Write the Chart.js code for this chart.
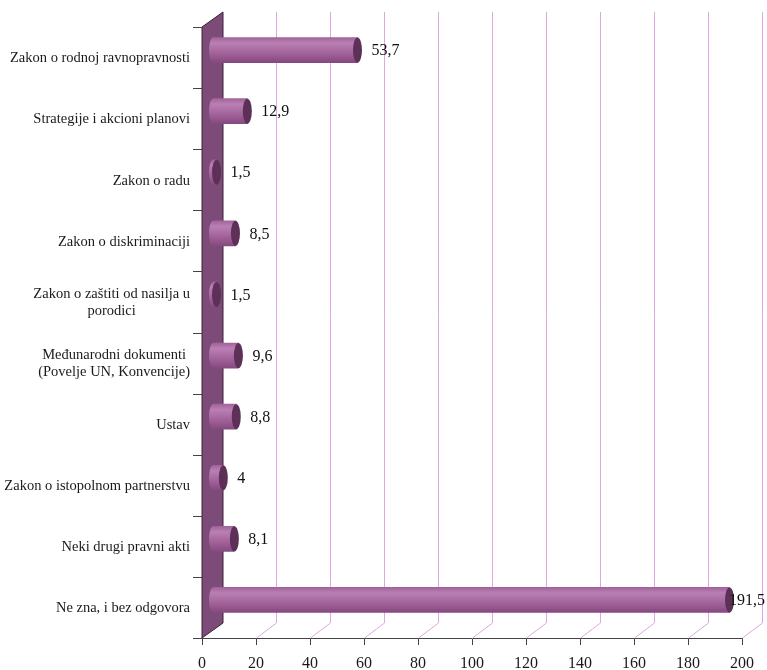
<!DOCTYPE html>
<html>
<head>
<meta charset="utf-8">
<script src="https://cdn.jsdelivr.net/npm/chart.js@4.4.1/dist/chart.umd.min.js"></script>
<style>
  body { margin: 0; background: #fff; }
  canvas { display: block; }
</style>
</head>
<body>
<canvas id="lawChart" width="767" height="670"></canvas>
<script>
// categories, top to bottom
var categories = [
     ["Zakon o rodnoj ravnopravnosti"],
     ["Strategije i akcioni planovi"],
     ["Zakon o radu"],
     ["Zakon o diskriminaciji"],
     ["Zakon o zaštiti od nasilja u", "porodici"],
     ["Međunarodni dokumenti", "(Povelje UN, Konvencije)"],
     ["Ustav"],
     ["Zakon o istopolnom partnerstvu"],
     ["Neki drugi pravni akti"],
     ["Ne zna, i bez odgovora"]
];
var values = [53.7, 12.9, 1.5, 8.5, 1.5, 9.6, 8.8, 4, 8.1, 191.5];
var xTicks = [0, 20, 40, 60, 80, 100, 120, 140, 160, 180, 200];

// 3D depth of the box
var DX = 21, DY = -15;
var BAR_H = 25;

function fmt(v) { return String(v).replace('.', ','); }

function barGradient(context) {
     var chart = context.chart;
     var ys = chart.scales.y;
     if (!chart.chartArea || !ys) return '#a86aa0';
     var yc = ys.getPixelForValue(context.dataIndex);
     var g = chart.ctx.createLinearGradient(0, yc - BAR_H / 2, 0, yc + BAR_H / 2);
     g.addColorStop(0, '#a2639b');
     g.addColorStop(0.22, '#b980b3');
     g.addColorStop(0.5, '#aa6ba3');
     g.addColorStop(1, '#86497f');
     return g;
}

// back wall, back grid lines and floor lines
var boxPlugin = {
     id: 'box3d',
     beforeDatasetsDraw: function(chart) {
          var ctx = chart.ctx, a = chart.chartArea, xs = chart.scales.x;
          ctx.save();
          ctx.strokeStyle = '#dfa6df';
          ctx.lineWidth = 1;
          xTicks.forEach(function(v) {
               if (v === 0) return;
               var x = Math.round(xs.getPixelForValue(v)) + 0.5;
               ctx.beginPath();
               ctx.moveTo(x + DX - 1, a.top + DY);
               ctx.lineTo(x + DX - 1, a.bottom + DY);
               ctx.lineTo(x, a.bottom);
               ctx.stroke();
          });
          // left wall
          var x0 = xs.getPixelForValue(0);
          ctx.beginPath();
          ctx.moveTo(x0, a.top);
          ctx.lineTo(x0 + DX, a.top + DY);
          ctx.lineTo(x0 + DX, a.bottom + DY);
          ctx.lineTo(x0, a.bottom);
          ctx.closePath();
          ctx.fillStyle = '#7d4b77';
          ctx.fill();
          ctx.strokeStyle = '#3b2239';
          ctx.stroke();
          // category ticks
          ctx.strokeStyle = '#444';
          var n = categories.length, step = (a.bottom - a.top) / n;
          for (var k = 0; k <= n; k++) {
               var y = Math.round(a.top + k * step) + 0.5;
               ctx.beginPath();
               ctx.moveTo(x0 - 9, y);
               ctx.lineTo(x0, y);
               ctx.stroke();
          }
          ctx.restore();
          // bars sit at half depth
          ctx.save();
          ctx.translate(DX / 2, DY / 2);
     },
     afterDatasetsDraw: function(chart) {
          var ctx = chart.ctx;
          var meta = chart.getDatasetMeta(0);
          meta.data.forEach(function(bar, i) {
               var h = bar.height / 2;
               // left rounded end
               ctx.beginPath();
               ctx.ellipse(bar.base, bar.y, 4, h, 0, 0, Math.PI * 2);
               ctx.fillStyle = barGradient({ chart: chart, dataIndex: i });
               ctx.fill();
               // right end cap
               ctx.beginPath();
               ctx.ellipse(bar.x, bar.y, 4.5, h, 0, 0, Math.PI * 2);
               ctx.fillStyle = '#5c3057';
               ctx.fill();
          });
          ctx.restore();
          // value labels
          ctx.save();
          ctx.font = '16px "Liberation Serif"';
          ctx.fillStyle = '#111';
          ctx.textBaseline = 'middle';
          meta.data.forEach(function(bar, i) {
               var t = fmt(values[i]);
               var w = ctx.measureText(t).width;
               var x = bar.x + DX / 2 + 14;
               if (x + w > 765) x = 765 - w;
               ctx.fillText(t, x, bar.y + DY / 2 + 1);
          });
          ctx.restore();
     },
     afterDraw: function(chart) {
          var ctx = chart.ctx, ys = chart.scales.y;
          ctx.save();
          ctx.font = '14.5px "Liberation Serif"';
          ctx.fillStyle = '#1a1a1a';
          ctx.textAlign = 'center';
          ctx.textBaseline = 'middle';
          categories.forEach(function(lines, i) {
               var yc = ys.getPixelForValue(i) + 1;
               var bw = 0;
               lines.forEach(function(l) { bw = Math.max(bw, ctx.measureText(l).width); });
               var cx = 190 - bw / 2;
               lines.forEach(function(l, j) {
                    ctx.fillText(l, cx, yc + (j - (lines.length - 1) / 2) * 17);
               });
          });
          ctx.restore();
     }
};

new Chart(document.getElementById('lawChart'), {
     type: 'bar',
     data: {
          labels: categories,
          datasets: [
               {
                    label: 'Odgovori',
                    data: values,
                    backgroundColor: barGradient,
                    borderWidth: 0,
                    barThickness: BAR_H
               }
          ]
     },
     options: {
          indexAxis: 'y',
          responsive: false,
          animation: false,
          layout: {
               padding: { left: 202, top: 27, right: 25, bottom: 0 }
          },
          plugins: {
               legend: false,
               tooltip: { enabled: false }
          },
          scales: {
               x: {
                    min: 0,
                    max: 200,
                    afterBuildTicks: function(scale) {
                         scale.ticks = xTicks.map(function(v) { return { value: v }; });
                    },
                    afterFit: function(scale) { scale.height = 32; },
                    grid: {
                         drawOnChartArea: false,
                         drawTicks: true,
                         tickLength: 7,
                         color: '#444'
                    },
                    border: { color: '#444' },
                    ticks: {
                         padding: 9,
                         color: '#1a1a1a',
                         maxRotation: 0,
                         font: { family: 'Liberation Serif', size: 16 }
                    }
               },
               y: {
                    display: false
               }
          }
     },
     plugins: [boxPlugin]
});
</script>
</body>
</html>
